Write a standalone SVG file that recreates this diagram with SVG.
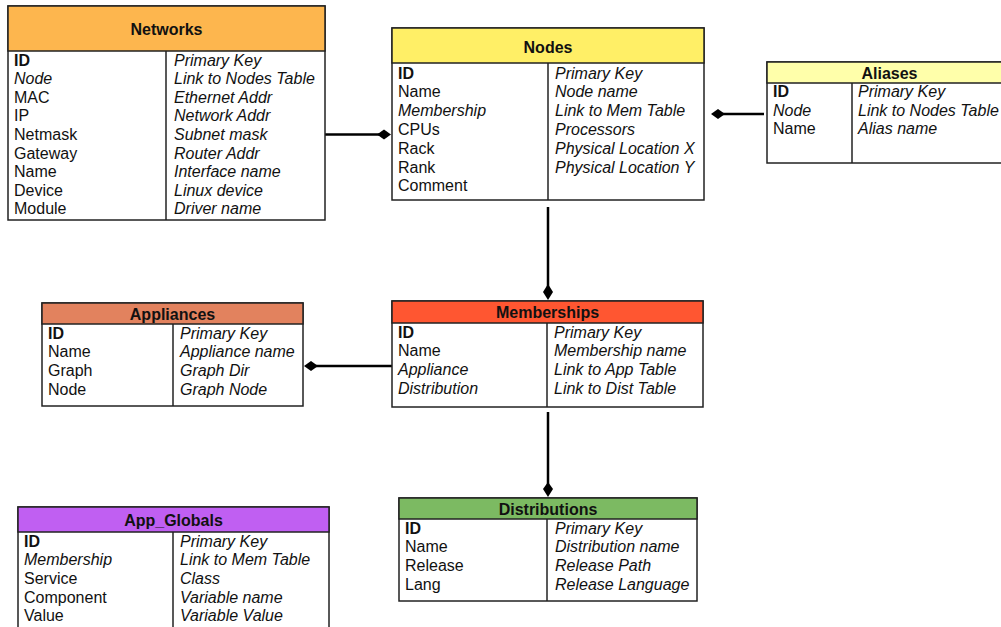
<svg xmlns="http://www.w3.org/2000/svg" width="1001" height="627" viewBox="0 0 1001 627">
<defs>
<style>
.box{fill:#ffffff;stroke:#222222;stroke-width:1.5}
.hdr{stroke:#222222;stroke-width:1.5}
.div{stroke:#222222;stroke-width:1.5}
text{font-family:"Liberation Sans",Arial,sans-serif;font-size:16px;fill:#111111}
.t{font-weight:bold;text-anchor:middle}
.b{font-weight:bold}
.i{font-style:italic}
.conn{stroke:#000000;stroke-width:2.5;fill:none}
.dia{fill:#000000}
</style>
</defs>
<rect width="1001" height="627" fill="#ffffff"/>

<g id="connectors">
<line class="conn" x1="324" y1="134.5" x2="384" y2="134.5"/>
<polygon class="dia" points="377,134.5 384,129.5 391,134.5 384,139.5"/>
<line class="conn" x1="718" y1="114" x2="764" y2="114"/>
<polygon class="dia" points="711,114 718,109 725,114 718,119"/>
<line class="conn" x1="548" y1="207" x2="548" y2="292"/>
<polygon class="dia" points="548,284 553,292 548,300 543,292"/>
<line class="conn" x1="311" y1="366" x2="392" y2="366"/>
<polygon class="dia" points="304,366 311,361 318,366 311,371"/>
<line class="conn" x1="548" y1="412" x2="548" y2="489"/>
<polygon class="dia" points="548,482 553,489 548,497 543,489"/>
</g>

<g id="networks">
<rect class="box" x="8" y="6" width="317" height="214"/>
<rect class="hdr" x="8" y="6" width="317" height="45" fill="#FDB64E"/>
<line class="div" x1="166" y1="51" x2="166" y2="220"/>
<text class="t" x="166.5" y="34.5">Networks</text>
<text class="b" x="14" y="65.5">ID</text>
<text class="i" x="14" y="84.1">Node</text>
<text x="14" y="102.7">MAC</text>
<text x="14" y="121.3">IP</text>
<text x="14" y="139.9">Netmask</text>
<text x="14" y="158.5">Gateway</text>
<text x="14" y="177.1">Name</text>
<text x="14" y="195.7">Device</text>
<text x="14" y="214.3">Module</text>
<text class="i" x="174" y="65.5">Primary Key</text>
<text class="i" x="174" y="84.1">Link to Nodes Table</text>
<text class="i" x="174" y="102.7">Ethernet Addr</text>
<text class="i" x="174" y="121.3">Network Addr</text>
<text class="i" x="174" y="139.9">Subnet mask</text>
<text class="i" x="174" y="158.5">Router Addr</text>
<text class="i" x="174" y="177.1">Interface name</text>
<text class="i" x="174" y="195.7">Linux device</text>
<text class="i" x="174" y="214.3">Driver name</text>
</g>

<g id="nodes">
<rect class="box" x="392" y="28" width="312" height="172"/>
<rect class="hdr" x="392" y="28" width="312" height="35" fill="#FFEF66"/>
<line class="div" x1="548" y1="63" x2="548" y2="200"/>
<text class="t" x="548" y="52.5">Nodes</text>
<text class="b" x="398" y="78.5">ID</text>
<text x="398" y="97.3">Name</text>
<text class="i" x="398" y="116.1">Membership</text>
<text x="398" y="134.9">CPUs</text>
<text x="398" y="153.7">Rack</text>
<text x="398" y="172.5">Rank</text>
<text x="398" y="191.3">Comment</text>
<text class="i" x="555" y="78.5">Primary Key</text>
<text class="i" x="555" y="97.3">Node name</text>
<text class="i" x="555" y="116.1">Link to Mem Table</text>
<text class="i" x="555" y="134.9">Processors</text>
<text class="i" x="555" y="153.7">Physical Location X</text>
<text class="i" x="555" y="172.5">Physical Location Y</text>
</g>

<g id="aliases">
<rect class="box" x="767" y="62" width="245" height="101"/>
<rect class="hdr" x="767" y="62" width="245" height="21" fill="#FFFFAA"/>
<line class="div" x1="852" y1="83" x2="852" y2="163"/>
<text class="t" x="889.5" y="78.5">Aliases</text>
<text class="b" x="773" y="97">ID</text>
<text class="i" x="773" y="115.5">Node</text>
<text x="773" y="134">Name</text>
<text class="i" x="858" y="97">Primary Key</text>
<text class="i" x="858" y="115.5">Link to Nodes Table</text>
<text class="i" x="858" y="134">Alias name</text>
</g>

<g id="appliances">
<rect class="box" x="42" y="303" width="261" height="103"/>
<rect class="hdr" x="42" y="303" width="261" height="21" fill="#E2825E"/>
<line class="div" x1="173" y1="324" x2="173" y2="406"/>
<text class="t" x="172.5" y="319.5">Appliances</text>
<text class="b" x="48" y="338.5">ID</text>
<text x="48" y="357.2">Name</text>
<text x="48" y="375.8">Graph</text>
<text x="48" y="394.5">Node</text>
<text class="i" x="180" y="338.5">Primary Key</text>
<text class="i" x="180" y="357.2">Appliance name</text>
<text class="i" x="180" y="375.8">Graph Dir</text>
<text class="i" x="180" y="394.5">Graph Node</text>
</g>

<g id="memberships">
<rect class="box" x="392" y="301" width="311" height="106"/>
<rect class="hdr" x="392" y="301" width="311" height="22" fill="#FF5631"/>
<line class="div" x1="547" y1="323" x2="547" y2="407"/>
<text class="t" x="547.5" y="317.5">Memberships</text>
<text class="b" x="398" y="337.5">ID</text>
<text x="398" y="356.2">Name</text>
<text class="i" x="398" y="374.8">Appliance</text>
<text class="i" x="398" y="393.5">Distribution</text>
<text class="i" x="554" y="337.5">Primary Key</text>
<text class="i" x="554" y="356.2">Membership name</text>
<text class="i" x="554" y="374.8">Link to App Table</text>
<text class="i" x="554" y="393.5">Link to Dist Table</text>
</g>

<g id="distributions">
<rect class="box" x="399" y="498" width="298" height="103"/>
<rect class="hdr" x="399" y="498" width="298" height="21" fill="#7CBA62"/>
<line class="div" x1="547" y1="519" x2="547" y2="601"/>
<text class="t" x="548" y="514.5">Distributions</text>
<text class="b" x="405" y="533.5">ID</text>
<text x="405" y="552.2">Name</text>
<text x="405" y="570.8">Release</text>
<text x="405" y="589.5">Lang</text>
<text class="i" x="555" y="533.5">Primary Key</text>
<text class="i" x="555" y="552.2">Distribution name</text>
<text class="i" x="555" y="570.8">Release Path</text>
<text class="i" x="555" y="589.5">Release Language</text>
</g>

<g id="app_globals">
<rect class="box" x="18" y="507" width="311" height="130"/>
<rect class="hdr" x="18" y="507" width="311" height="25" fill="#C05FF2"/>
<line class="div" x1="173" y1="532" x2="173" y2="637"/>
<text class="t" x="173.5" y="525.5">App_Globals</text>
<text class="b" x="24" y="546.5">ID</text>
<text class="i" x="24" y="565.2">Membership</text>
<text x="24" y="583.8">Service</text>
<text x="24" y="602.5">Component</text>
<text x="24" y="621.2">Value</text>
<text class="i" x="180" y="546.5">Primary Key</text>
<text class="i" x="180" y="565.2">Link to Mem Table</text>
<text class="i" x="180" y="583.8">Class</text>
<text class="i" x="180" y="602.5">Variable name</text>
<text class="i" x="180" y="621.2">Variable Value</text>
</g>
</svg>
